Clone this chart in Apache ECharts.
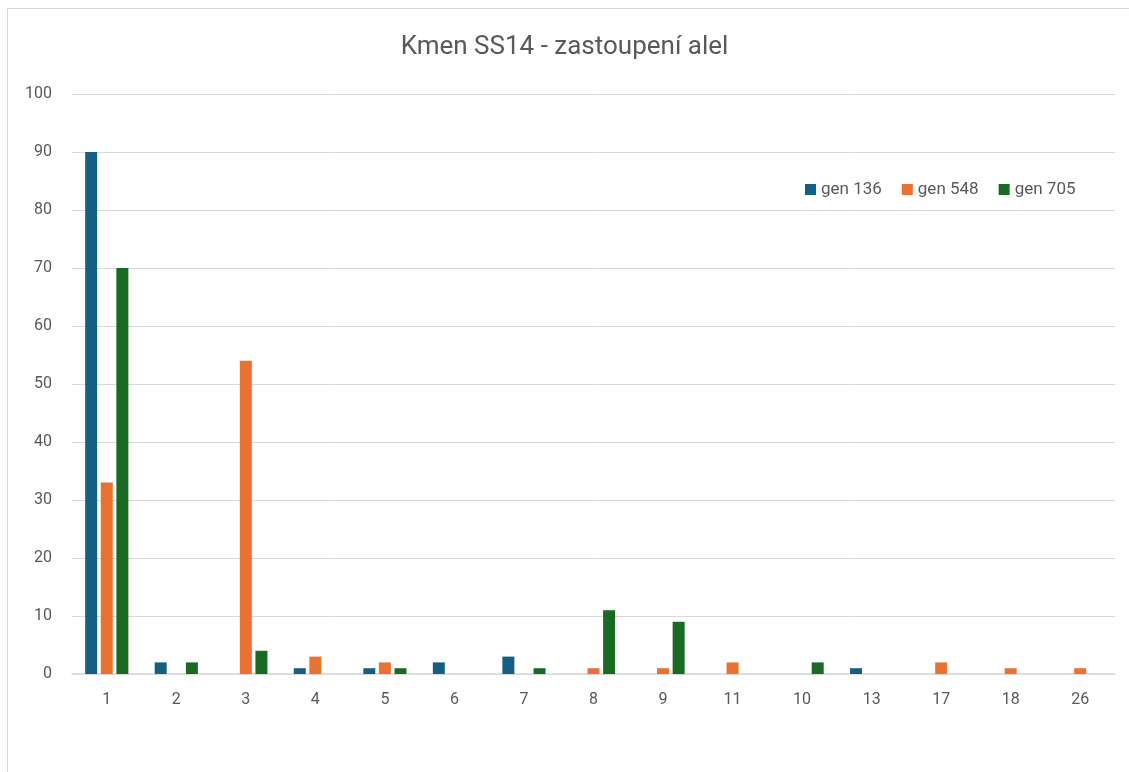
<!DOCTYPE html>
<html><head><meta charset="utf-8">
<script src="https://cdn.jsdelivr.net/npm/echarts@6/dist/echarts.min.js"></script>
<style>html,body{margin:0;padding:0;background:#fff}#c{width:1129px;height:772px}
#frame{position:absolute;left:7px;top:8px;width:1140px;height:800px;border:1px solid #d9d9d9;pointer-events:none}</style>
</head><body><div id="c"></div><div id="frame"></div>
<script>
const categories = ['1','2','3','4','5','6','7','8','9','11','10','13','17','18','26'];
const gen136 = [90, 2, 0, 1, 1, 2, 3, 0, 0, 0, 0, 1, 0, 0, 0];
const gen548 = [33, 0, 54, 3, 2, 0, 0, 1, 1, 2, 0, 0, 2, 1, 1];
const gen705 = [70, 2, 4, 0, 1, 0, 1, 11, 9, 0, 2, 0, 0, 0, 0];
const seriesNames = ['gen 136', 'gen 548', 'gen 705'];
const colors = ['#156082', '#E97132', '#196B24'];
const font = 'Roboto';
const chart = echarts.init(document.getElementById('c'));
const mk = (name, data, color) => ({
  name, type: 'bar', data, barWidth: 12, barGap: '30%',
  itemStyle: { color }
});
chart.setOption({
  animation: false,
  title: { text: 'Kmen SS14 - zastoupení alel', left: 'center', top: 29,
    textStyle: { fontFamily: font, fontSize: 26, fontWeight: 'normal', color: '#595959' } },
  legend: { data: seriesNames, left: 800, top: 176, itemWidth: 11, itemHeight: 11, itemGap: 20,
    icon: 'rect', textStyle: { fontFamily: font, fontSize: 17, color: '#595959' } },
  grid: { left: 72, right: 14, top: 94, bottom: 98 },
  xAxis: { type: 'category', data: categories,
    axisLine: { lineStyle: { color: '#d9d9d9', width: 1.5 } }, axisTick: { show: false },
    axisLabel: { fontFamily: font, fontSize: 16, color: '#595959', margin: 18 } },
  yAxis: { type: 'value', min: 0, max: 100, interval: 10,
    axisLine: { show: false }, axisTick: { show: false },
    splitLine: { lineStyle: { color: '#d9d9d9', width: 1 } },
    axisLabel: { fontFamily: font, fontSize: 16, color: '#595959', margin: 20 } },
  series: [mk(seriesNames[0], gen136, colors[0]), mk(seriesNames[1], gen548, colors[1]), mk(seriesNames[2], gen705, colors[2])]
});
</script></body></html>
